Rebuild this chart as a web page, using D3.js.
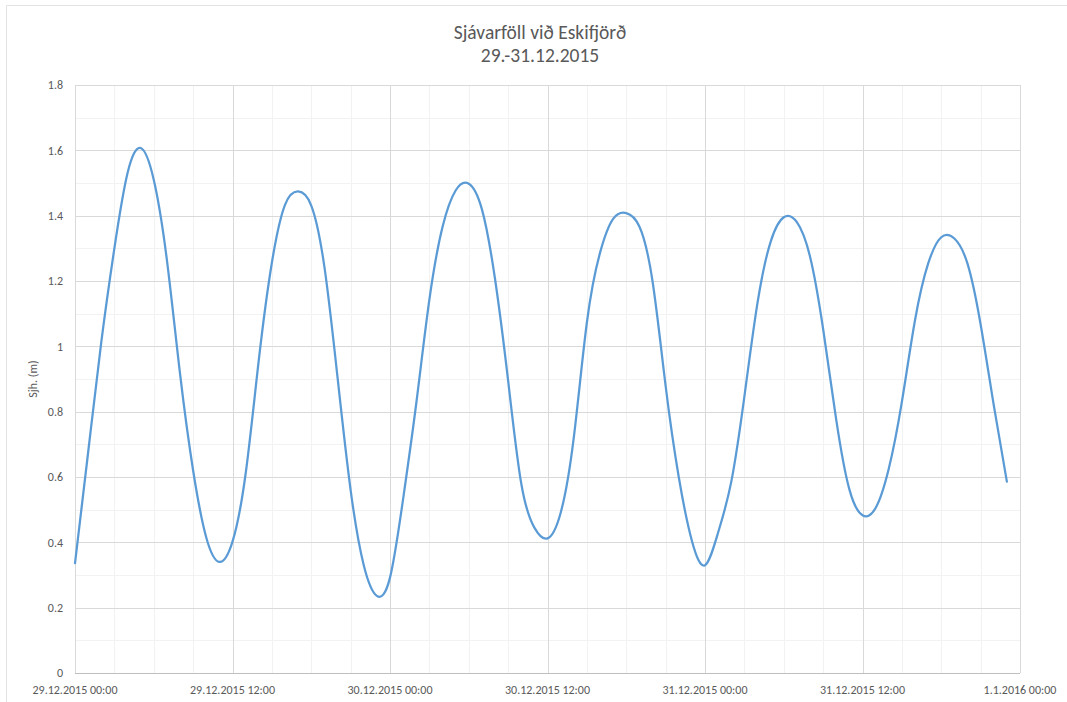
<!DOCTYPE html>
<html>
<head>
<meta charset="utf-8">
<script src="https://cdn.jsdelivr.net/npm/d3@7"></script>
<style>
  html, body { margin: 0; padding: 0; background: #fff; }
  svg { display: block; font-family: Carlito, Calibri, Lato, sans-serif; }
</style>
</head>
<body>
<svg id="chart" width="1067" height="702"></svg>
<script>
// Sea level at Eskifjörður, hourly readings from 29.12.2015 00:00 to 31.12.2015 23:00 (m)
const startTime = new Date(2015, 11, 29, 0, 0);
const endTime = new Date(2016, 0, 1, 0, 0);
const seaLevel = [
  0.336, 0.675, 1.012, 1.300, 1.530, 1.607, 1.510, 1.265, 0.917, 0.620, 0.415, 0.340,
  0.402, 0.610, 0.957, 1.256, 1.433, 1.474, 1.431, 1.244, 0.906, 0.560, 0.330, 0.236,
  0.292, 0.533, 0.825, 1.143, 1.365, 1.477, 1.498, 1.420, 1.207, 0.895, 0.580, 0.445,
  0.412, 0.490, 0.720, 1.073, 1.286, 1.390, 1.408, 1.367, 1.200, 0.879, 0.600, 0.405,
  0.330, 0.430, 0.585, 0.846, 1.133, 1.320, 1.395, 1.380, 1.275, 1.053, 0.775, 0.562,
  0.483, 0.505, 0.625, 0.830, 1.080, 1.253, 1.334, 1.330, 1.253, 1.067, 0.820, 0.586
];

const titleLines = ["Sjávarföll við Eskifjörð", "29.-31.12.2015"];
const yAxisTitle = "Sjh. (m)";
const yTicks = [0, 0.2, 0.4, 0.6, 0.8, 1, 1.2, 1.4, 1.6, 1.8];
const yTickLabels = ["0", "0.2", "0.4", "0.6", "0.8", "1", "1.2", "1.4", "1.6", "1.8"];
const xTicks = [
  new Date(2015, 11, 29, 0), new Date(2015, 11, 29, 12),
  new Date(2015, 11, 30, 0), new Date(2015, 11, 30, 12),
  new Date(2015, 11, 31, 0), new Date(2015, 11, 31, 12),
  new Date(2016, 0, 1, 0)
];
const xTickLabels = [
  "29.12.2015 00:00", "29.12.2015 12:00", "30.12.2015 00:00", "30.12.2015 12:00",
  "31.12.2015 00:00", "31.12.2015 12:00", "1.1.2016 00:00"
];

const points = seaLevel.map((v, i) => ({ t: d3.timeHour.offset(startTime, i), v }));

const svg = d3.select("#chart");
const plot = { left: 75, right: 1020, top: 85, bottom: 673 };
const textColor = "#595959";

const x = d3.scaleTime().domain([startTime, endTime]).range([plot.left, plot.right]);
const y = d3.scaleLinear().domain([0, 1.8]).range([plot.bottom, plot.top]);

// chart frame (top and left edges)
svg.append("path")
  .attr("d", "M6.5,702 V5.5 H1067")
  .attr("fill", "none")
  .attr("stroke", "#e3e3e3")
  .attr("stroke-width", 1);

// minor gridlines
const minorY = d3.range(1, 18, 2).map(d => d / 10);
svg.append("g").selectAll("line").data(minorY).join("line")
  .attr("x1", plot.left).attr("x2", plot.right)
  .attr("y1", d => Math.round(y(d)) + 0.5).attr("y2", d => Math.round(y(d)) + 0.5)
  .attr("stroke", "#f2f2f2");
const minorX = d3.timeHour.every(3).range(startTime, endTime).filter(d => d.getHours() % 12 !== 0);
svg.append("g").selectAll("line").data(minorX).join("line")
  .attr("x1", d => Math.round(x(d)) + 0.5).attr("x2", d => Math.round(x(d)) + 0.5)
  .attr("y1", plot.top).attr("y2", plot.bottom)
  .attr("stroke", "#f2f2f2");

// major gridlines
svg.append("g").selectAll("line").data(yTicks.slice(1)).join("line")
  .attr("x1", plot.left).attr("x2", plot.right)
  .attr("y1", d => Math.round(y(d)) + 0.5).attr("y2", d => Math.round(y(d)) + 0.5)
  .attr("stroke", "#d9d9d9");
svg.append("g").selectAll("line").data(xTicks).join("line")
  .attr("x1", d => Math.round(x(d)) + 0.5).attr("x2", d => Math.round(x(d)) + 0.5)
  .attr("y1", plot.top).attr("y2", plot.bottom)
  .attr("stroke", "#d9d9d9");

// horizontal axis line
svg.append("line")
  .attr("x1", plot.left).attr("x2", plot.right)
  .attr("y1", plot.bottom + 0.5).attr("y2", plot.bottom + 0.5)
  .attr("stroke", "#bfbfbf");

// y tick labels
svg.append("g").selectAll("text").data(yTicks).join("text")
  .attr("x", 63)
  .attr("y", d => y(d))
  .attr("dy", "0.35em")
  .attr("text-anchor", "end")
  .attr("font-size", 12)
  .attr("fill", textColor)
  .text((d, i) => yTickLabels[i]);

// x tick labels
svg.append("g").selectAll("text").data(xTicks).join("text")
  .attr("x", d => x(d))
  .attr("y", 694)
  .attr("text-anchor", "middle")
  .attr("font-size", 12)
  .attr("fill", textColor)
  .text((d, i) => xTickLabels[i]);

// y axis title
svg.append("text")
  .attr("transform", `translate(37,${(plot.top + plot.bottom) / 2}) rotate(-90)`)
  .attr("text-anchor", "middle")
  .attr("font-size", 12)
  .attr("fill", textColor)
  .text(yAxisTitle);

// title
svg.append("g").selectAll("text").data(titleLines).join("text")
  .attr("x", 540)
  .attr("y", (d, i) => 39 + i * 22.5)
  .attr("text-anchor", "middle")
  .attr("font-size", 19.5)
  .attr("fill", textColor)
  .text(d => d);

// sea level curve
const line = d3.line()
  .x(d => x(d.t))
  .y(d => y(d.v))
  .curve(d3.curveNatural);

svg.append("path")
  .datum(points)
  .attr("d", line)
  .attr("fill", "none")
  .attr("stroke", "#5b9bd5")
  .attr("stroke-width", 2.25)
  .attr("stroke-linejoin", "round")
  .attr("stroke-linecap", "round");
</script>
</body>
</html>
